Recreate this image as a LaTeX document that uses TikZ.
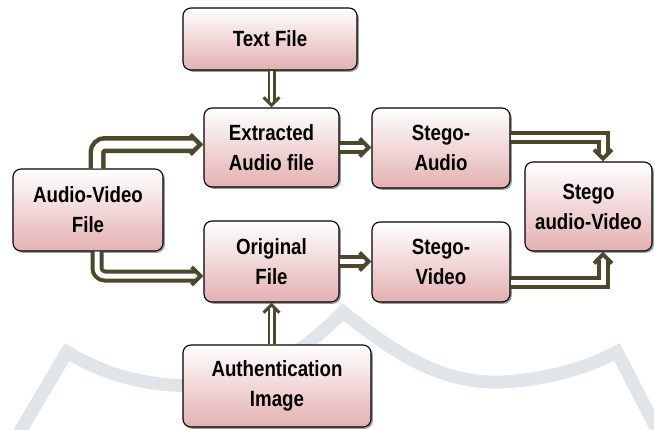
\documentclass[tikz,border=0pt]{standalone}
\usepackage{fontspec}
\setmainfont{Liberation Sans}[FakeStretch=0.85]
\usetikzlibrary{arrows.meta,shadows}
\definecolor{arrowc}{RGB}{77,72,45}
\definecolor{pinkc}{RGB}{228,176,176}
\definecolor{wmark}{RGB}{224,229,234}
\begin{document}
\begin{tikzpicture}[x=1pt,y=-1pt,
  box/.style={draw=black, line width=1.1pt, rounded corners=8pt,
    top color=white, bottom color=pinkc,
    drop shadow={shadow xshift=1.8pt, shadow yshift=-1.8pt, fill=black!70, opacity=0.55},
    align=center, inner sep=0pt, font=\bfseries\fontsize{22}{30}\selectfont},
  shaft/.style n args={3}{draw=arrowc, line width=#1pt, double=white,
    double distance=#2pt, shorten >=#3pt},
  thinshaft/.style={shaft={2.5}{3}{5.7}},
  midshaft/.style={shaft={4}{5}{8.2}},
  wideshaft/.style={shaft={4.5}{8}{10.4}},
  pics/chev/.style n args={2}{code={
    \draw[arrowc, line width=#1pt, line join=miter, line cap=butt]
      ({-#2-0.7071*#1},#2) -- ({-0.7071*#1},0) -- ({-#2-0.7071*#1},-#2);}},
  wm/.style={draw=wmark, line width=13pt, line join=miter}]
\fill[white] (0,0) rectangle (654,429);
\useasboundingbox (0,0) rectangle (654,429);
% watermark
\draw[wm] (12,445) -- (67,352) .. controls (110,378) and (150,386) .. (200,386)
  .. controls (260,386) and (310,345) .. (343,312)
  .. controls (390,350) and (440,384) .. (500,382)
  .. controls (550,380) and (590,366) .. (617,352) -- (665,445);
% boxes
\node[box, minimum width=174pt, minimum height=62pt] (text) at (270,39) {Text File};
\node[box, minimum width=135pt, minimum height=79pt] (extr) at (271.5,147.5) {Extracted\\Audio file};
\node[box, minimum width=150pt, minimum height=82pt] (av) at (88,210) {Audio-Video\\File};
\node[box, minimum width=135pt, minimum height=81pt] (orig) at (271.5,261.5) {Original\\File};
\node[box, minimum width=188pt, minimum height=82pt] (auth) at (277,386) {Authentication\\Image};
\node[box, minimum width=138pt, minimum height=80pt] (sa) at (441,148) {Stego-\\Audio};
\node[box, minimum width=138pt, minimum height=80pt] (sv) at (441,262) {Stego-\\Video};
\node[box, minimum width=127pt, minimum height=89pt] (sav) at (588.5,206.5) {Stego\\audio-Video};
% helper coordinates
\coordinate (t1) at (extr.north);
\coordinate (t2) at ([yshift=3pt]extr.west);
\coordinate (t3) at ([yshift=-14.5pt]orig.west);
\coordinate (t4) at (extr.east -| sa.west);
\coordinate (t5) at (orig.east -| sv.west);
\coordinate (t6) at (orig.south);
\coordinate (t7) at ([xshift=14.5pt]sav.north);
\coordinate (t8) at ([xshift=14.5pt]sav.south);
% arrows
\draw[thinshaft] (text.south -| t1) -- (t1);
\pic[rotate=-90] at (t1) {chev={3}{8}};
\draw[wideshaft, rounded corners=8pt] ([xshift=9pt]av.north) |- (t2);
\pic at (t2) {chev={4.5}{10}};
\draw[midshaft, rounded corners=8pt] ([xshift=9pt]av.south) |- (t3);
\pic at (t3) {chev={4}{9}};
\draw[midshaft] (extr.east) -- (t4);
\pic at (t4) {chev={4}{9}};
\draw[midshaft] (orig.east) -- (t5);
\pic at (t5) {chev={4}{9}};
\draw[thinshaft] (auth.north -| t6) -- (t6);
\pic[rotate=90] at (t6) {chev={3}{8}};
\draw[midshaft] ([yshift=11pt]sa.east) -| (t7);
\pic[rotate=-90] at (t7) {chev={4}{9}};
\draw[midshaft] ([yshift=-20pt]sv.east) -| (t8);
\pic[rotate=90] at (t8) {chev={4}{9}};
\end{tikzpicture}
\end{document}
